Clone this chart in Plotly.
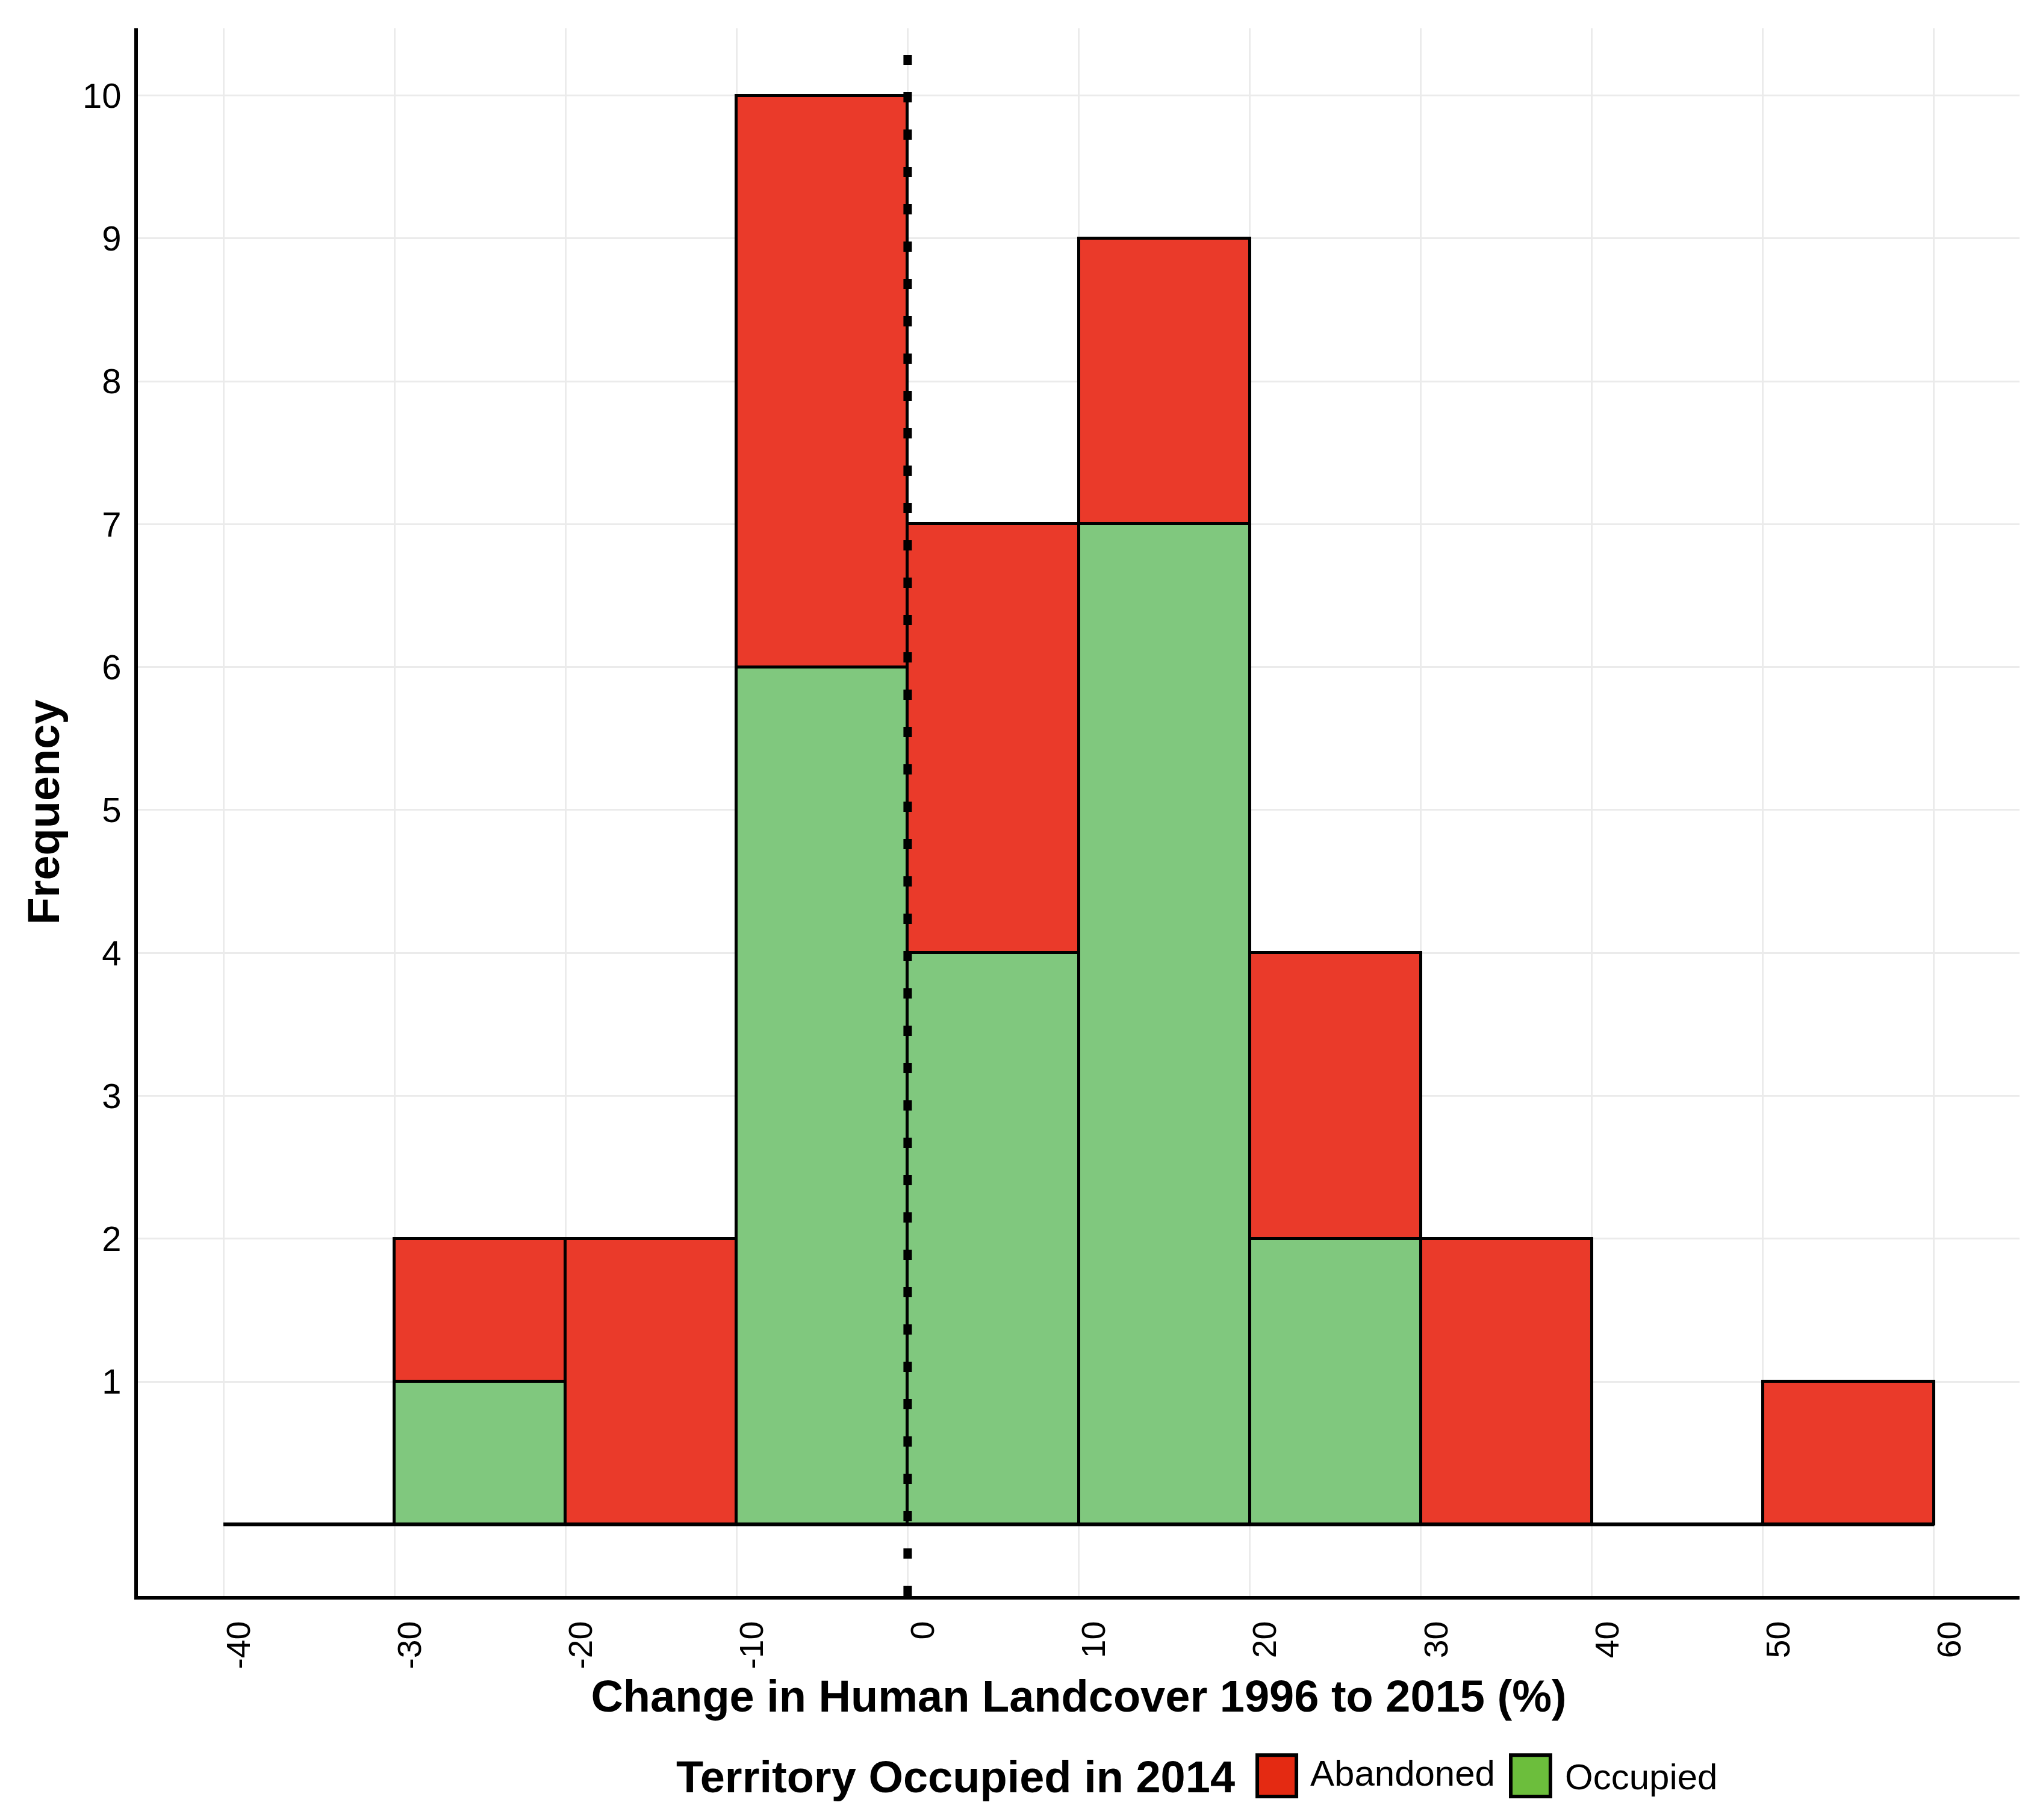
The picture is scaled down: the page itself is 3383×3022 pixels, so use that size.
""" Stacked histogram of landcover change by territory status """
import plotly.graph_objects as go

# histogram bins (percent change), 10 wide
bin_edges = [-40, -30, -20, -10, 0, 10, 20, 30, 40, 50, 60]
occupied = [0, 1, 0, 6, 4, 7, 2, 0, 0, 0]
abandoned = [0, 1, 2, 4, 3, 2, 2, 2, 0, 1]
ref_line_x = 0

x_ticks = [-40, -30, -20, -10, 0, 10, 20, 30, 40, 50, 60]
y_ticks = [1, 2, 3, 4, 5, 6, 7, 8, 9, 10]

series_names = ['Occupied', 'Abandoned']
bar_colors = {'Occupied': '#80c87e', 'Abandoned': '#ea3a2a'}
key_colors = {'Abandoned': '#e42a12', 'Occupied': '#6cbe3c'}

FONT = 'Liberation Sans, Arial, sans-serif'

centers = [(a + b) / 2 for a, b in zip(bin_edges[:-1], bin_edges[1:])]
widths = [b - a for a, b in zip(bin_edges[:-1], bin_edges[1:])]

fig = go.Figure()

# baseline at zero (empty bins still show their outline)
fig.add_trace(go.Scatter(x=[bin_edges[0], bin_edges[-1]], y=[0, 0], mode='lines',
                         line={'color': 'black', 'width': 6},
                         showlegend=False, hoverinfo='skip'))

for name, counts in zip(series_names, [occupied, abandoned]):
    fig.add_trace(go.Bar(x=centers, y=counts, width=widths, name=name,
                         marker={'color': bar_colors[name],
                                 'line': {'color': 'black', 'width': 5}},
                         showlegend=False))

# dotted reference line
fig.add_shape(type='line', xref='x', yref='paper', x0=ref_line_x, x1=ref_line_x,
              y0=0, y1=1, line={'color': 'black', 'width': 14, 'dash': '17px,45px'},
              layer='above')

# legend drawn by hand so the keys can be as big as in the original
fig.add_annotation(xref='paper', yref='paper', x=0.5837, y=-0.1153,
                   text='<b>Territory Occupied in 2014</b>', showarrow=False,
                   xanchor='right', yanchor='middle',
                   font={'family': FONT, 'size': 74, 'color': 'black'})
key_boxes = {'Abandoned': (0.5949, 0.6157, 0.6224, -0.1130),
             'Occupied': (0.7296, 0.7507, 0.7578, -0.1153)}
for name in ['Abandoned', 'Occupied']:
    x0, x1, tx, ty = key_boxes[name]
    fig.add_shape(type='rect', xref='paper', yref='paper', x0=x0, x1=x1,
                  y0=-0.1279, y1=-0.1015, fillcolor=key_colors[name],
                  line={'color': 'black', 'width': 6})
    fig.add_annotation(xref='paper', yref='paper', x=tx, y=ty, text=name,
                       showarrow=False, xanchor='left', yanchor='middle',
                       font={'family': FONT, 'size': 60, 'color': 'black'})

fig.update_layout(
    width=3383, height=3022,
    margin={'l': 221, 'r': 37, 't': 39, 'b': 380},
    barmode='stack', bargap=0,
    plot_bgcolor='white', paper_bgcolor='white',
    showlegend=False,
    font={'family': FONT, 'color': 'black'},
    xaxis={
        'range': [-45, 65],
        'tickvals': x_ticks,
        'ticktext': [str(v) for v in x_ticks],
        'tickangle': -90,
        'tickfont': {'size': 55, 'color': 'black'},
        'ticklabelshift': 26,
        'ticklabelstandoff': 14,
        'showgrid': True, 'gridcolor': '#ebebeb', 'gridwidth': 3,
        'zeroline': False,
        'showline': True, 'linecolor': 'black', 'linewidth': 6,
        'ticks': '',
        'title': {'text': '<b>Change in Human Landcover 1996 to 2015 (%)</b>',
                  'font': {'size': 74, 'color': 'black'}, 'standoff': 22},
    },
    yaxis={
        'range': [-0.5, 10.47],
        'tickvals': y_ticks,
        'ticktext': [str(v) for v in y_ticks],
        'tickfont': {'size': 58, 'color': 'black'},
        'ticklabelstandoff': 10,
        'showgrid': True, 'gridcolor': '#ebebeb', 'gridwidth': 3,
        'zeroline': False,
        'showline': True, 'linecolor': 'black', 'linewidth': 6,
        'ticks': '',
        'title': {'text': '<b>Frequency</b>',
                  'font': {'size': 74, 'color': 'black'}, 'standoff': 16},
    },
)

fig.write_html('out.html')
